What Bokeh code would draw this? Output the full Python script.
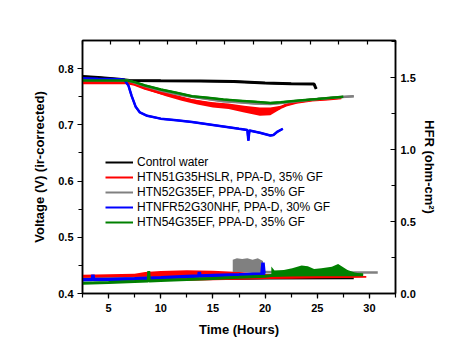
from bokeh.plotting import figure
from bokeh.models import (Range1d, LinearAxis, SingleIntervalTicker, Legend, LegendItem,
                          NumeralTickFormatter, CustomJSTickFormatter)
from bokeh.embed import file_html
from bokeh.resources import INLINE

FONT = "Liberation Sans"

# ---------------- data ----------------
series_names = ["Control water", "HTN51G35HSLR, PPA-D, 35% GF", "HTN52G35EF, PPA-D, 35% GF",
                "HTNFR52G30NHF, PPA-D, 30% GF", "HTN54G35EF, PPA-D, 35% GF"]
colors = ["#000000", "#ff0000", "#808080", "#0000ff", "#008000"]

# Voltage (left axis)
t_black = [2.5, 4, 6, 7, 10, 13.8, 17, 20, 22.5, 24.7, 24.8, 24.9]
v_black = [0.786, 0.784, 0.781, 0.779, 0.7785, 0.778, 0.777, 0.7745, 0.773, 0.7725, 0.768, 0.764]

t_red = [2.5, 6.8, 7.5, 8.5, 10, 11.5, 13, 14.5, 16, 17.5, 19, 20.2, 21, 22, 23, 24.5, 26, 27.3]
v_red = [0.775, 0.775, 0.772, 0.765, 0.757, 0.750, 0.743, 0.738, 0.735, 0.731, 0.727, 0.724,
         0.727, 0.735, 0.740, 0.744, 0.746, 0.748]
t_red_band = [9, 10.5, 12, 13.5, 15, 16.5, 18, 19.5, 20.5, 21.5]
v_red_hi = [0.764, 0.756, 0.749, 0.744, 0.740, 0.738, 0.734, 0.731, 0.731, 0.734]
v_red_lo = [0.760, 0.751, 0.743, 0.736, 0.731, 0.728, 0.722, 0.716, 0.717, 0.728]

t_gray = [2.5, 6.8, 7.5, 8.5, 10, 11.5, 13, 14.5, 16, 17.5, 19, 20.5, 21.5, 23, 25, 27, 28.5]
v_gray = [0.780, 0.779, 0.775, 0.769, 0.761, 0.755, 0.750, 0.746, 0.742, 0.740, 0.738, 0.737,
          0.739, 0.742, 0.746, 0.749, 0.751]

t_blue = [2.5, 4, 6, 6.5, 6.9, 7.2, 7.6, 8.0, 8.7, 10, 11.5, 13, 14.5, 16, 17.5, 18.3, 18.4,
          18.5, 19.5, 20.5, 20.8, 21.2, 21.7]
v_blue = [0.783, 0.782, 0.781, 0.780, 0.770, 0.752, 0.732, 0.722, 0.716, 0.711, 0.708, 0.705,
          0.701, 0.697, 0.693, 0.691, 0.672, 0.690, 0.686, 0.681, 0.682, 0.688, 0.693]

t_green = [2.5, 6.8, 7.5, 8.5, 10, 11.5, 13, 14.5, 16, 17.5, 19, 20.5, 21.5, 23, 25, 27.5]
v_green = [0.779, 0.779, 0.776, 0.770, 0.763, 0.757, 0.751, 0.748, 0.745, 0.743, 0.741, 0.739,
           0.740, 0.743, 0.746, 0.750]

# HFR (right axis)
t_hfr_black = [2.5, 10, 20.5, 28.5]
h_black = [0.095, 0.098, 0.104, 0.106]

t_hfr_red = [2.5, 5, 7.5, 8.5, 10, 12.5, 15, 17.5, 20, 22.5, 25, 27.5, 29.7]
h_red_hi = [0.130, 0.133, 0.138, 0.150, 0.157, 0.162, 0.158, 0.150, 0.135, 0.130, 0.128, 0.125, 0.122]
h_red_lo = [0.100, 0.100, 0.097, 0.092, 0.089, 0.089, 0.092, 0.096, 0.100, 0.103, 0.106, 0.108, 0.110]

t_hfr_gray = [2.5, 10, 16.9, 19.8, 22, 25, 28, 30.8]
h_gray = [0.100, 0.110, 0.125, 0.150, 0.148, 0.147, 0.146, 0.145]
t_gray_block = [16.9, 17.3, 17.8, 18.3, 18.8, 19.3, 19.8]
h_gray_hi = [0.235, 0.245, 0.240, 0.245, 0.235, 0.245, 0.225]
h_gray_lo = [0.150, 0.150, 0.150, 0.150, 0.150, 0.150, 0.150]

t_hfr_blue = [2.5, 3.45, 3.5, 3.55, 5, 7.5, 10, 12.5, 13.65, 13.7, 13.75, 15, 17.5, 19.7, 19.8, 19.9, 20.0]
h_blue = [0.095, 0.097, 0.130, 0.097, 0.098, 0.103, 0.110, 0.118, 0.121, 0.150, 0.121, 0.125,
          0.130, 0.136, 0.215, 0.137, 0.137]

t_hfr_green = [2.5, 5, 7.5, 8.8, 8.85, 8.9, 10, 12.5, 15, 17.5, 20, 20.6, 22.5, 25, 27.5, 29.4]
h_green = [0.072, 0.077, 0.083, 0.087, 0.155, 0.087, 0.090, 0.097, 0.105, 0.112, 0.120, 0.125,
           0.128, 0.130, 0.130, 0.130]
t_green_noise = [20.6, 20.9, 21.8, 22.6, 23.5, 24.1, 24.7, 25.4, 26.4, 27.0, 27.9, 28.6, 29.4]
h_green_hi = [0.188, 0.160, 0.164, 0.175, 0.194, 0.190, 0.170, 0.176, 0.185, 0.204, 0.164, 0.145, 0.135]
h_green_lo = [0.125, 0.126, 0.127, 0.128, 0.128, 0.129, 0.129, 0.130, 0.130, 0.130, 0.130, 0.130, 0.130]

# ---------------- figure ----------------
p = figure(frame_width=313, frame_height=253, output_backend="svg", toolbar_location=None,
           x_range=Range1d(2.5, 32.5), y_range=Range1d(0.4, 0.85),
           min_border_left=82, min_border_top=40, min_border_right=60, min_border_bottom=54,
           background_fill_color="white", border_fill_color="white")
p.extra_y_ranges = {"hfr": Range1d(0, 1.757)}
p.extra_x_ranges = {"top": Range1d(0, 11)}
p.xgrid.visible = False
p.ygrid.visible = False
p.outline_line_color = "black"
p.outline_line_width = 1.5

def style_axis(ax):
    ax.axis_line_width = 1.5
    ax.major_tick_line_width = 1.2
    ax.minor_tick_line_width = 1.2
    ax.major_label_text_font = FONT
    ax.major_label_text_font_style = "bold"
    ax.major_label_text_font_size = "11px"
    ax.major_label_text_color = "black"
    ax.axis_label_text_font = FONT
    ax.axis_label_text_font_style = "bold"
    ax.axis_label_text_font_size = "13px"
    ax.axis_label_text_color = "black"

xa = p.xaxis[0]
xa.ticker = SingleIntervalTicker(interval=5, num_minor_ticks=2)
xa.axis_label = "Time (Hours)"
xa.major_tick_out = 5
xa.major_tick_in = 0
xa.minor_tick_out = 4
xa.minor_tick_in = 0
xa.major_label_standoff = 5
xa.axis_label_standoff = 7
style_axis(xa)

ya = p.yaxis[0]
ya.ticker = SingleIntervalTicker(interval=0.1, num_minor_ticks=2)
ya.formatter = NumeralTickFormatter(format="0.0")
ya.axis_label = "Voltage (V) (ir-corrected)"
ya.major_tick_out = 5
ya.major_tick_in = 0
ya.minor_tick_out = 4
ya.minor_tick_in = 0
ya.major_label_standoff = 4
ya.axis_label_standoff = 8
style_axis(ya)

ra = LinearAxis(y_range_name="hfr", axis_label="HFR (ohm-cm²)",
                ticker=SingleIntervalTicker(interval=0.5, num_minor_ticks=2),
                formatter=NumeralTickFormatter(format="0.0"))
ra.major_tick_in = 5
ra.major_tick_out = 0
ra.minor_tick_in = 4
ra.minor_tick_out = 0
ra.major_label_standoff = 5
ra.axis_label_standoff = 3
style_axis(ra)
p.add_layout(ra, "right")

ta = LinearAxis(x_range_name="top", ticker=SingleIntervalTicker(interval=1, num_minor_ticks=0),
                formatter=CustomJSTickFormatter(code="return ''"))
ta.major_tick_in = 4
ta.major_tick_out = 0
ta.minor_tick_in = 0
ta.minor_tick_out = 0
ta.major_label_standoff = 0
ta.major_label_text_font_size = "1px"
ta.axis_line_width = 1.5
ta.major_tick_line_width = 1.2
p.add_layout(ta, "above")

LW = 2.5
# HFR curves
p.line(t_hfr_black, h_black, y_range_name="hfr", line_color=colors[0], line_width=2)
p.varea(x=t_hfr_red, y1=h_red_lo, y2=h_red_hi, y_range_name="hfr", fill_color=colors[1])
p.line(t_hfr_gray, h_gray, y_range_name="hfr", line_color=colors[2], line_width=LW)
p.varea(x=t_gray_block, y1=h_gray_lo, y2=h_gray_hi, y_range_name="hfr", fill_color=colors[2])
p.line(t_hfr_blue, h_blue, y_range_name="hfr", line_color=colors[3], line_width=3.5)
p.line(t_hfr_green, h_green, y_range_name="hfr", line_color=colors[4], line_width=3)
p.varea(x=t_green_noise, y1=h_green_lo, y2=h_green_hi, y_range_name="hfr", fill_color=colors[4])

# thin copies of the voltage curves (used as legend glyphs), drawn beneath
voltage_sets = [(t_black, v_black), (t_red, v_red), (t_gray, v_gray), (t_blue, v_blue), (t_green, v_green)]
legend_rs = [p.line(t, v, line_color=c, line_width=2) for (t, v), c in zip(voltage_sets, colors)]

# Voltage curves
p.line(t_black, v_black, line_color=colors[0], line_width=LW + 0.5)
p.line(t_red, v_red, line_color=colors[1], line_width=LW + 0.5)
p.varea(x=t_red_band, y1=v_red_lo, y2=v_red_hi, fill_color=colors[1])
p.line(t_gray, v_gray, line_color=colors[2], line_width=LW)
p.line(t_blue, v_blue, line_color=colors[3], line_width=LW)
p.line(t_green, v_green, line_color=colors[4], line_width=LW)

legend = Legend(items=[LegendItem(label=n, renderers=[r]) for n, r in zip(series_names, legend_rs)],
                location=(21, 62), background_fill_alpha=0, border_line_alpha=0,
                label_text_font=FONT, label_text_font_size="12px", label_text_color="black",
                glyph_width=28, glyph_height=14, label_height=14, spacing=1,
                label_standoff=4, padding=2, margin=0)
p.add_layout(legend, "center")

open("out.html", "w").write(file_html(p, INLINE))
